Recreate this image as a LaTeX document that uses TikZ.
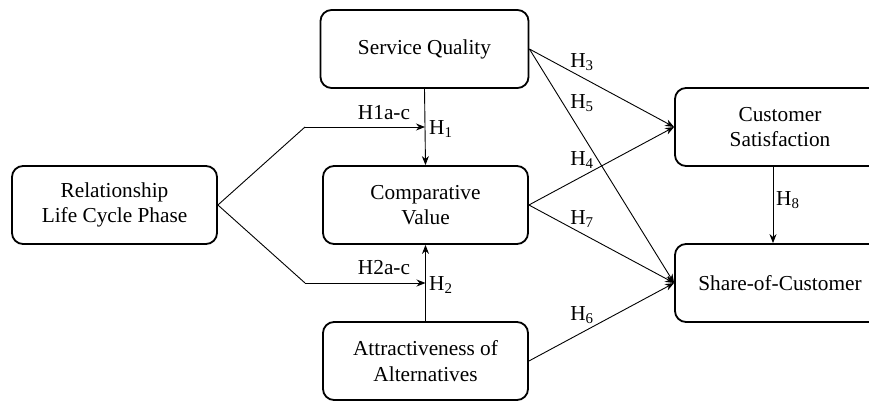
\documentclass[tikz,border=0pt]{standalone}
\usepackage{fontspec}
\setmainfont{Liberation Serif}
\usetikzlibrary{arrows.meta,calc}
\tikzset{
  box/.style={draw, line width=1.8pt, rounded corners=11pt, minimum height=78pt, align=center, inner sep=0pt, font=\fontsize{21.3}{25.5}\selectfont},
  arr/.style={line width=0.9pt, -{Stealth[length=9pt,width=7pt]}},
  ln/.style={line width=0.9pt},
  lab/.style={font=\fontsize{21.3}{25.5}\selectfont, inner sep=0pt}
}
\begin{document}
\begin{tikzpicture}[x=1pt,y=-1pt]
\useasboundingbox (0,0) rectangle (869,401);
\node[box, minimum width=205pt] (R) at (114.5,205) {Relationship\\Life Cycle Phase};
\node[box, minimum width=208pt] (SQ) at (424.5,49) {Service Quality};
\node[box, minimum width=205pt] (CV) at (425.5,205) {Comparative\\Value};
\node[box, minimum width=205pt] (AA) at (425.5,361) {Attractiveness of\\Alternatives};
\node[box, minimum width=210pt] (CS) at (780,127) {Customer\\Satisfaction};
\node[box, minimum width=210pt] (SC) at (780,283) {Share-of-Customer};
\draw[arr] (SQ.south) -- (CV.north) coordinate[pos=0.5] (j1);
\draw[arr] (AA.north) -- (CV.south) coordinate[pos=0.5] (j2);
\coordinate (b1) at (305,127);
\coordinate (b2) at (305,283);
\draw[ln] (R.east) -- (b1);
\draw[arr] (b1) -- (j1);
\draw[ln] (R.east) -- (b2);
\draw[arr] (b2) -- (j2);
\draw[arr] (SQ.east) -- (CS.west);
\draw[arr] (SQ.east) -- (SC.west);
\draw[arr] (CV.east) -- (CS.west);
\draw[arr] (CV.east) -- (SC.west);
\draw[arr] (AA.east) -- (SC.west);
\coordinate (h8a) at ([xshift=-7pt]CS.south);
\coordinate (h8b) at ([xshift=-7pt]SC.north);
\draw[arr] (h8a) -- (h8b);
\node[lab] (l1ac) at (384,113) {H1a-c};
\node[lab] (l2ac) at (384,268) {H2a-c};
\node[lab, anchor=west] (l1) at (429,129) {H\textsubscript{1}};
\node[lab, anchor=west] (l2) at (429,285) {H\textsubscript{2}};
\node[lab] (l3) at (582,62) {H\textsubscript{3}};
\node[lab] (l5) at (582,103) {H\textsubscript{5}};
\node[lab] (l4) at (582,160) {H\textsubscript{4}};
\node[lab] (l7) at (582,219) {H\textsubscript{7}};
\node[lab] (l6) at (582,315) {H\textsubscript{6}};
\node[lab, anchor=west] (l8) at (776,200) {H\textsubscript{8}};
\end{tikzpicture}
\end{document}
